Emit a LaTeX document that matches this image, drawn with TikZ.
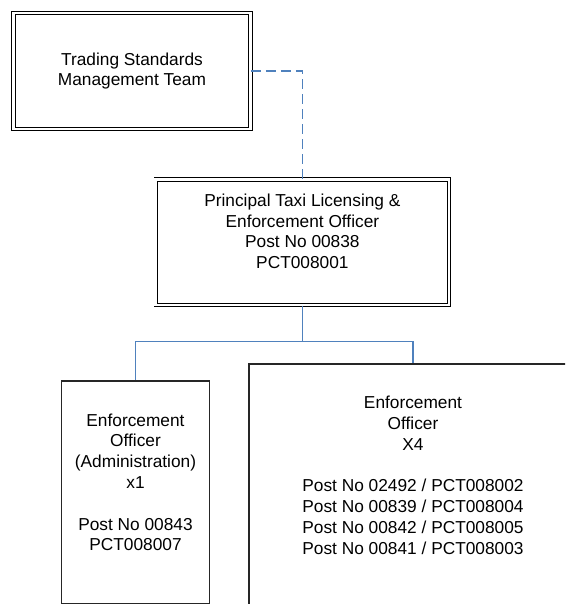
\documentclass[tikz,border=0pt]{standalone}
\usepackage{fontspec}
\setmainfont{Liberation Sans}
\definecolor{linkblue}{HTML}{4F81BD}
\begin{document}
\begin{tikzpicture}[x=1pt,y=-1pt,
  dbox/.style={draw=black, line width=0.9pt, double, double distance=2.8pt, inner sep=0pt, rectangle},
  sbox/.style={draw=black!85, line width=1.2pt, inner sep=0pt, rectangle},
  txt/.style={font=\fontsize{17.3}{20.8}\selectfont, align=center, inner sep=0pt},
  link/.style={draw=linkblue, line width=1.2pt},
  dlink/.style={draw=linkblue, line width=1.6pt, dash pattern=on 10pt off 5pt}]
\useasboundingbox (0,0) rectangle (565,604);
\clip (0,0) rectangle (565,604);
% boxes
\node[dbox, minimum width=236.6pt, minimum height=116.1pt] (t1) at (132,71) {};
\node[dbox, minimum width=293.1pt, minimum height=125.7pt] (t2) at (302.4,242.2) {};
\node[sbox, minimum width=147.6pt, minimum height=222.3pt] (lb) at (135.5,492.15) {};
\node[sbox, minimum width=328pt, minimum height=276pt] (rb) at (413,502) {};
\coordinate (j) at (302.4,341.7);
% connectors
\draw[dlink] (t1.east) -| (t2.north);
\draw[link] (t2.south) -- (j);
\draw[link] (j) -| (lb.north);
\draw[link] (j) -| (rb.north);
% texts
\node[txt] (t1txt) at (132,71) {Trading Standards\\Management Team};
\node[txt, anchor=north] (t2txt) at (302.4,193.5) {Principal Taxi Licensing \&\\Enforcement Officer\\Post No 00838\\PCT008001};
\node[txt, anchor=north] (lbtxt) at (135.5,413.3) {Enforcement\\Officer\\(Administration)\\x1\\[20.8pt]Post No 00843\\PCT008007};
\node[txt, anchor=north] (rbtxt) at (413,395.7) {Enforcement\\Officer\\X4\\[20.8pt]Post No 02492 / PCT008002\\Post No 00839 / PCT008004\\Post No 00842 / PCT008005\\Post No 00841 / PCT008003};
\end{tikzpicture}
\end{document}
